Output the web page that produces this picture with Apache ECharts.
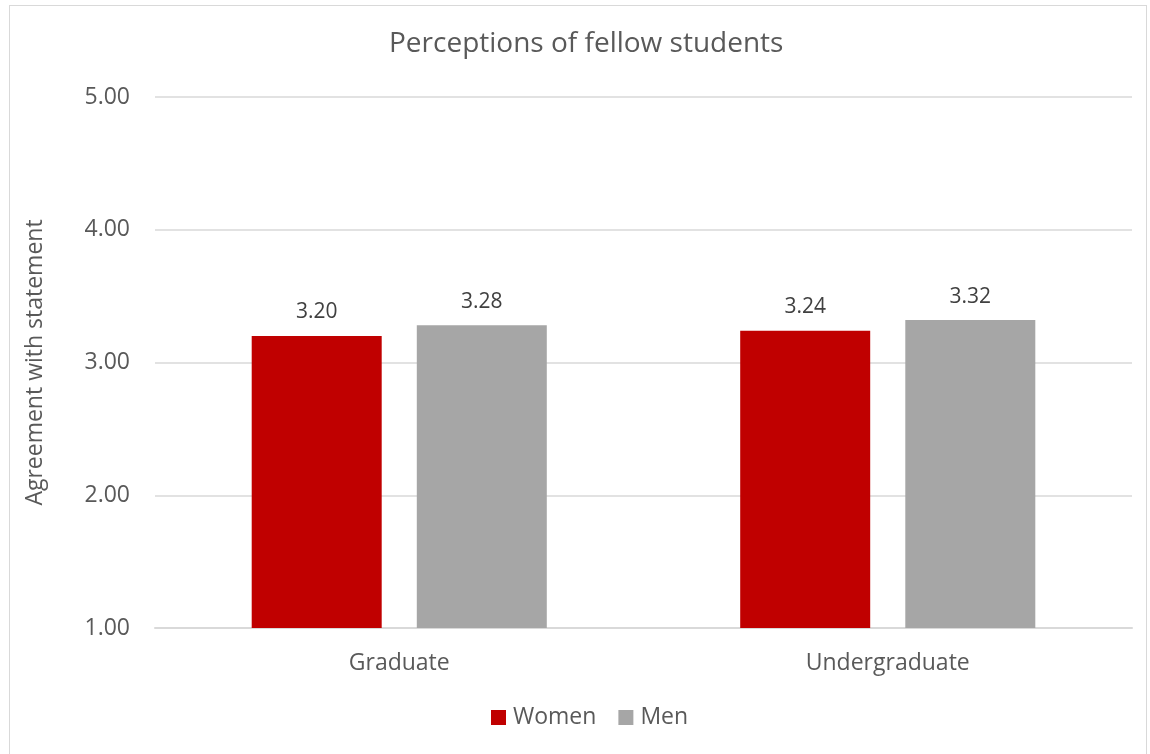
<!DOCTYPE html>
<html>
<head>
<meta charset="utf-8">
<script src="https://cdn.jsdelivr.net/npm/echarts@6/dist/echarts.min.js"></script>
<style>
  html, body { margin: 0; padding: 0; background: #fff; }
  #frame { position: absolute; left: 9px; top: 5px; width: 1138px; height: 760px; border: 1px solid #d9d9d9; box-sizing: border-box; }
  #chart { position: absolute; left: 0; top: 0; width: 1150px; height: 754px; }
</style>
</head>
<body>
<div id="frame"></div>
<div id="chart"></div>
<script>
const categories = ['Graduate', 'Undergraduate'];
const women = [3.20, 3.24];
const men = [3.28, 3.32];
const yTicks = [1, 2, 3, 4, 5];

const txt = '#595959';
const font = '"Open Sans", "Noto Sans", sans-serif';

let chart = echarts.init(document.getElementById('chart'));

function barSeries(name, data, color) {
    return {
        name: name,
        type: 'bar',
        data: data,
        barWidth: 130,
        barGap: '27%',
        itemStyle: { color: color },
        label: {
            show: true,
            position: 'top',
            distance: 13,
            color: '#404040',
            fontFamily: font,
            fontSize: 21,
            formatter: p => p.value.toFixed(2)
        }
    };
}

let option = {
    animation: false,
    title: {
        text: 'Perceptions of fellow students',
        left: 384,
        top: 25,
        textStyle: { color: txt, fontFamily: font, fontSize: 28, fontWeight: 'normal' }
    },
    legend: {
        bottom: 20,
        left: 486,
        icon: 'rect',
        itemWidth: 15,
        itemHeight: 15,
        itemGap: 22,
        itemStyle: { borderWidth: 0 },
        textStyle: { color: txt, fontFamily: font, fontSize: 23, padding: [0, 0, 0, 2] },
        data: ['Women', 'Men']
    },
    grid: { left: 155, right: 18, top: 97, bottom: 126 },
    xAxis: {
        type: 'category',
        data: categories,
        axisLine: { lineStyle: { color: '#d9d9d9', width: 2 } },
        axisTick: { show: false },
        axisLabel: { color: txt, fontFamily: font, fontSize: 23, margin: 24 }
    },
    yAxis: {
        type: 'value',
        min: yTicks[0],
        max: yTicks[yTicks.length - 1],
        interval: 1,
        name: 'Agreement with statement',
        nameLocation: 'middle',
        nameGap: 108,
        nameTextStyle: { color: txt, fontFamily: font, fontSize: 23 },
        axisLine: { show: false },
        axisTick: { show: false },
        splitLine: { lineStyle: { color: '#d9d9d9', width: 1.5 } },
        axisLabel: {
            color: txt, fontFamily: font, fontSize: 23, margin: 25,
            formatter: v => v.toFixed(2)
        }
    },
    series: [
        barSeries('Women', women, '#c00000'),
        barSeries('Men', men, '#a6a6a6')
    ]
};

chart.setOption(option);
</script>
</body>
</html>
